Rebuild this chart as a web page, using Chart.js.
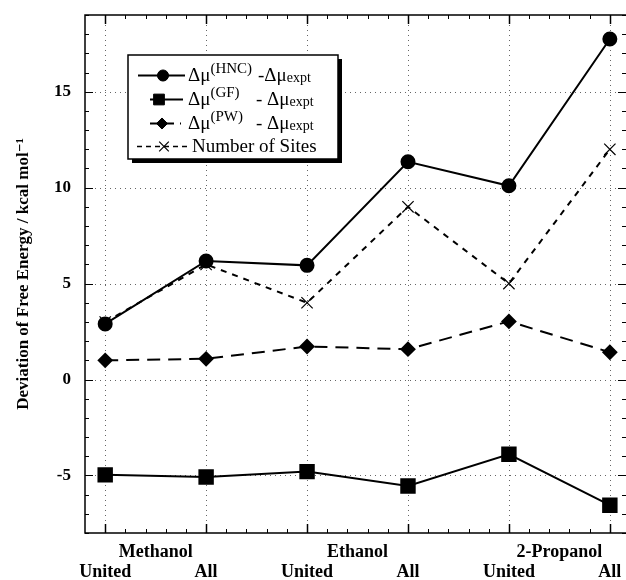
<!DOCTYPE html>
<html>
<head>
<meta charset="utf-8">
<script src="https://cdn.jsdelivr.net/npm/chart.js@4"></script>
<style>
  html, body { margin: 0; padding: 0; background: #fff; }
  #wrap { width: 626px; height: 580px; position: relative; }
</style>
</head>
<body>
<div id="wrap"><canvas id="c" width="626" height="580"></canvas></div>
<script>
// ---- data ----
const categories = ['United', 'All', 'United', 'All', 'United', 'All'];
const groups = ['Methanol', 'Ethanol', '2-Propanol'];
const hncValues = [2.9, 6.18, 5.95, 11.35, 10.1, 17.75];
const gfValues = [-4.97, -5.08, -4.8, -5.55, -3.9, -6.55];
const pwValues = [1.0, 1.08, 1.72, 1.58, 3.03, 1.42];
const siteValues = [3, 6, 4, 9, 5, 12];
const yTickValues = [-5, 0, 5, 10, 15];
const seriesLabels = ['Δμ(HNC) -Δμexpt', 'Δμ(GF) - Δμexpt', 'Δμ(PW) - Δμexpt', 'Number of Sites'];
const legendSup = ['(HNC)', '(GF)', '(PW)'];
const yTitle = 'Deviation of Free Energy / kcal mol⁻¹';

const SERIF = '"Liberation Serif", "Times New Roman", "DejaVu Serif", serif';
const toPts = arr => arr.map((v, i) => ({ x: i, y: v }));

const overlay = {
  id: 'overlay',
  beforeDatasetsDraw(chart) {
    const ctx = chart.ctx, a = chart.chartArea;
    const xs = chart.scales.x, ys = chart.scales.y;
    ctx.save();
    ctx.strokeStyle = '#666';
    ctx.lineWidth = 1;
    ctx.setLineDash([1, 4]);
    yTickValues.forEach(v => {
      const y = Math.round(ys.getPixelForValue(v)) + 0.5;
      ctx.beginPath(); ctx.moveTo(a.left, y); ctx.lineTo(a.right, y); ctx.stroke();
    });
    categories.forEach((c, i) => {
      const x = Math.round(xs.getPixelForValue(i)) + 0.5;
      ctx.beginPath(); ctx.moveTo(x, a.top); ctx.lineTo(x, a.bottom); ctx.stroke();
    });
    ctx.restore();
  },
  afterDraw(chart) {
    const ctx = chart.ctx, a = chart.chartArea;
    const xs = chart.scales.x, ys = chart.scales.y;
    ctx.save();
    ctx.setLineDash([]);
    ctx.strokeStyle = '#000';
    // frame
    ctx.lineWidth = 1.5;
    ctx.beginPath();
    ctx.moveTo(a.right, a.top); ctx.lineTo(a.left, a.top);
    ctx.lineTo(a.left, a.bottom); ctx.lineTo(a.right, a.bottom);
    ctx.stroke();
    // ticks on y (left and right)
    ctx.lineWidth = 1;
    for (let v = Math.ceil(ys.min); v <= ys.max; v++) {
      const y = Math.round(ys.getPixelForValue(v)) + 0.5;
      const len = yTickValues.includes(v) ? 8 : 4;
      ctx.beginPath(); ctx.moveTo(a.left, y); ctx.lineTo(a.left + len, y); ctx.stroke();
      ctx.beginPath(); ctx.moveTo(a.right, y); ctx.lineTo(a.right - len, y); ctx.stroke();
    }
    // ticks on x (bottom and top)
    for (let k = 0; k <= 26; k++) {
      const v = k * 0.2;
      if (v > xs.max) break;
      const major = (k % 5 === 0);
      const x = Math.round(xs.getPixelForValue(v)) + 0.5;
      const len = major ? 9 : 4;
      ctx.lineWidth = major ? 1.5 : 1;
      ctx.beginPath(); ctx.moveTo(x, a.bottom); ctx.lineTo(x, a.bottom - len); ctx.stroke();
      ctx.beginPath(); ctx.moveTo(x, a.top); ctx.lineTo(x, a.top + len); ctx.stroke();
    }
    // group labels
    ctx.fillStyle = '#000';
    ctx.font = 'bold 18px ' + SERIF;
    ctx.textAlign = 'center';
    ctx.textBaseline = 'middle';
    groups.forEach((g, i) => {
      const x = xs.getPixelForValue(2 * i + 0.5);
      ctx.fillText(g, x, 552);
    });

    // legend
    const bx = 128, by = 55, bw = 210, bh = 104;
    ctx.fillStyle = '#000';
    ctx.fillRect(bx + 4, by + 4, bw, bh);
    ctx.fillStyle = '#fff';
    ctx.fillRect(bx, by, bw, bh);
    ctx.lineWidth = 1.5;
    ctx.strokeStyle = '#000';
    ctx.strokeRect(bx, by, bw, bh);

    const rowsY = [75, 99, 123, 146];
    const lineX0 = [138, 150, 150, 137];
    const lineX1 = [185, 183, 181, 187];
    const markX = [163, 159, 162, 164];
    const dsets = chart.data.datasets;
    dsets.forEach((ds, i) => {
      const y = rowsY[i];
      ctx.save();
      ctx.strokeStyle = '#000';
      ctx.fillStyle = '#000';
      ctx.lineWidth = i === 3 ? 1.5 : 2;
      ctx.setLineDash(i === 2 ? [9, 6] : (i === 3 ? [5, 4] : []));
      ctx.beginPath(); ctx.moveTo(lineX0[i], y + 0.5); ctx.lineTo(lineX1[i], y + 0.5); ctx.stroke();
      ctx.setLineDash([]);
      ctx.lineWidth = ds.pointBorderWidth || 1;
      Chart.helpers.drawPoint(ctx, {
        pointStyle: ds.pointStyle, radius: ds.pointRadius * (i === 1 ? 0.8 : 0.85),
        rotation: 0, borderWidth: ds.pointBorderWidth || 1
      }, markX[i], y + 0.5);
      ctx.restore();

      ctx.fillStyle = '#000';
      ctx.textAlign = 'left';
      ctx.textBaseline = 'alphabetic';
      const base = y + 6;
      if (i < 3) {
        let tx = 188;
        ctx.font = '19px ' + SERIF;
        ctx.fillText('Δμ', tx, base);
        tx += ctx.measureText('Δμ').width;
        ctx.font = '15px ' + SERIF;
        ctx.fillText(legendSup[i], tx, base - 8);
        let tail, tx2;
        if (i === 0) { tail = '-Δμ'; tx2 = 258; }
        else { tail = '- Δμ'; tx2 = 256; }
        ctx.font = '19px ' + SERIF;
        ctx.fillText(tail, tx2, base);
        tx2 += ctx.measureText(tail).width;
        ctx.font = '14px ' + SERIF;
        ctx.fillText('expt', tx2, base + 1);
      } else {
        ctx.font = '19px ' + SERIF;
        ctx.fillText(ds.label, 192, base);
      }
    });
    ctx.restore();
  }
};

new Chart(document.getElementById('c'), {
  type: 'line',
  data: {
    datasets: [
      {
        label: seriesLabels[0], data: toPts(hncValues),
        borderColor: '#000', backgroundColor: '#000', borderWidth: 2,
        pointStyle: 'circle', pointRadius: 6.5, pointBackgroundColor: '#000', pointBorderColor: '#000'
      },
      {
        label: seriesLabels[1], data: toPts(gfValues),
        borderColor: '#000', backgroundColor: '#000', borderWidth: 2,
        pointStyle: 'rect', pointRadius: 9.5, pointBackgroundColor: '#000', pointBorderColor: '#000'
      },
      {
        label: seriesLabels[2], data: toPts(pwValues),
        borderColor: '#000', backgroundColor: '#000', borderWidth: 2, borderDash: [13, 8],
        pointStyle: 'rectRot', pointRadius: 6.5, pointBackgroundColor: '#000', pointBorderColor: '#000'
      },
      {
        label: seriesLabels[3], data: toPts(siteValues),
        borderColor: '#000', backgroundColor: '#000', borderWidth: 2, borderDash: [6, 6],
        pointStyle: 'crossRot', pointRadius: 8, pointBorderWidth: 1.2, pointBorderColor: '#000'
      }
    ]
  },
  options: {
    responsive: false,
    animation: false,
    layout: { autoPadding: false, padding: { top: 15, right: 0, left: 0, bottom: 0 } },
    plugins: { legend: { display: false }, tooltip: { enabled: false } },
    elements: { line: { tension: 0 } },
    scales: {
      x: {
        type: 'linear', min: -0.2, max: 5.16,
        afterBuildTicks: s => { s.ticks = categories.map((c, i) => ({ value: i })); },
        afterFit: s => { s.height = 47; s.paddingLeft = 0; s.paddingRight = 0; },
        grid: { display: false, drawTicks: false },
        border: { display: false },
        ticks: {
          callback: v => ['', categories[v]],
          font: { family: SERIF, size: 18, weight: 'bold', lineHeight: 1.45 }, color: '#000',
          padding: 0, maxRotation: 0, autoSkip: false
        }
      },
      y: {
        type: 'linear', min: -8, max: 19,
        afterBuildTicks: s => { s.ticks = yTickValues.map(v => ({ value: v })); },
        afterFit: s => { s.width = 85; s.paddingTop = 0; s.paddingBottom = 0; },
        grid: { display: false, drawTicks: false },
        border: { display: false },
        ticks: {
          callback: v => String(v),
          font: { family: SERIF, size: 17, weight: 'bold' }, color: '#000',
          padding: 14
        },
        title: {
          display: true, text: yTitle, color: '#000',
          font: { family: SERIF, size: 17, weight: 'bold' },
          padding: { top: 13, bottom: 0 }
        }
      }
    }
  },
  plugins: [overlay]
});
</script>
</body>
</html>
